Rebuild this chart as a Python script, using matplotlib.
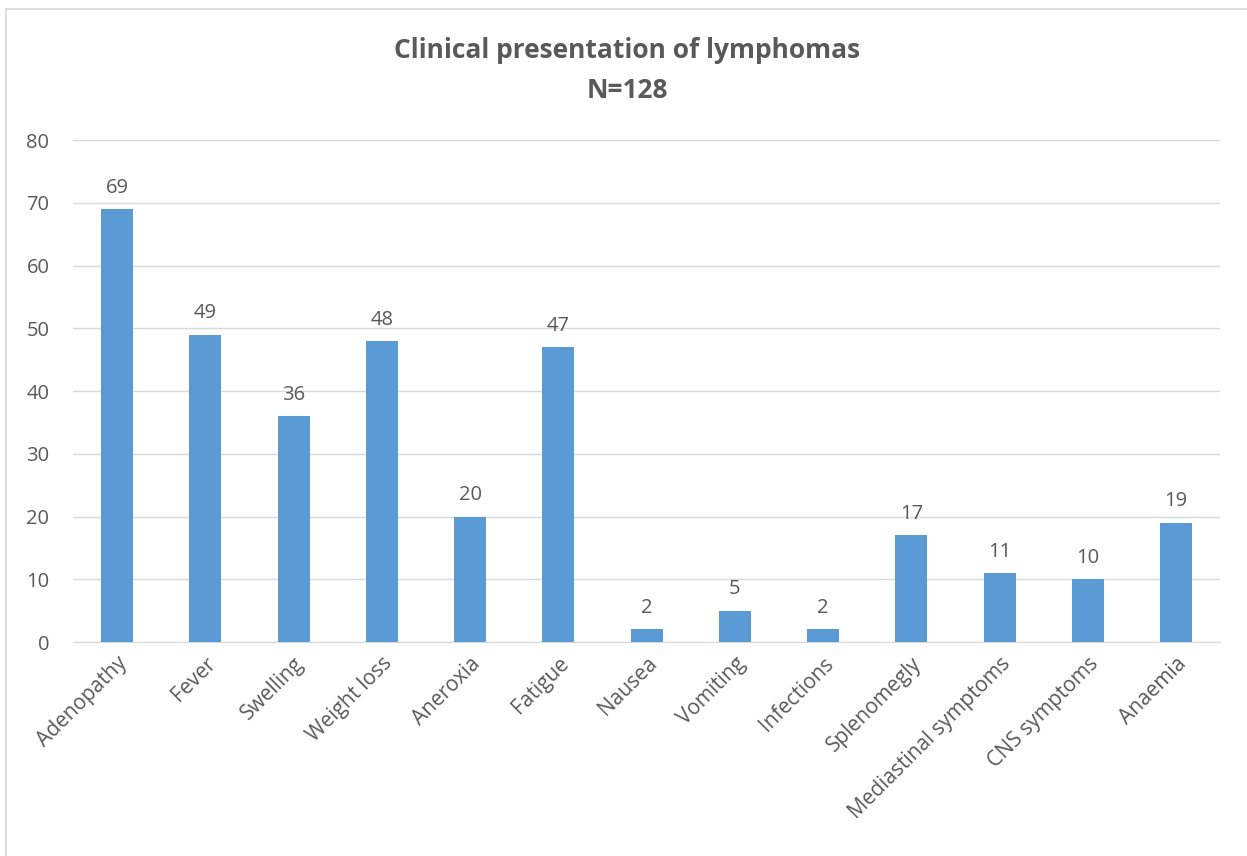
import matplotlib
matplotlib.use('Agg')
import matplotlib.pyplot as plt
from matplotlib.lines import Line2D

plt.rcParams['font.family'] = ['Open Sans', 'DejaVu Sans']

categories = ['Adenopathy', 'Fever', 'Swelling', 'Weight loss', 'Aneroxia', 'Fatigue',
              'Nausea', 'Vomiting', 'Infections', 'Splenomegly', 'Mediastinal symptoms',
              'CNS symptoms', 'Anaemia']
counts = [69, 49, 36, 48, 20, 47, 2, 5, 2, 17, 11, 10, 19]
y_ticks = [0, 10, 20, 30, 40, 50, 60, 70, 80]

text_col = '#595959'
bar_col = '#5B9BD5'

W, H = 1247, 856
fig = plt.figure(figsize=(W / 100, H / 100), dpi=100)
ax = fig.add_axes([73 / W, 0.25, 0.920, 0.5864])

x = range(len(categories))
ax.bar(x, counts, width=0.36, color=bar_col, zorder=3)
for xi, v in zip(x, counts):
    ax.text(xi, v + 1.8, str(v), ha='center', va='bottom', fontsize=14.5, color=text_col)

ax.set_xlim(-0.5, len(categories) - 0.5)
ax.set_ylim(0, 80)
ax.set_yticks(y_ticks)
ax.set_yticklabels([str(t) for t in y_ticks], fontsize=14.5, color=text_col)
ax.set_xticks(list(x))
ax.set_xticklabels(categories, rotation=45, ha='right', rotation_mode='anchor',
                   fontsize=15, color=text_col)
ax.tick_params(axis='y', length=0, pad=17)
ax.tick_params(axis='x', length=0, pad=8)
ax.grid(axis='y', color='#D9D9D9', linewidth=1, zorder=0)
for s in ['top', 'right', 'left']:
    ax.spines[s].set_visible(False)
ax.spines['bottom'].set_color('#D9D9D9')

fig.text(0.5 + 4 / W, 1 - 50 / H, 'Clinical presentation of lymphomas', ha='center',
         va='center', fontsize=19, fontweight='bold', color=text_col)
fig.text(0.5 + 4 / W, 1 - 90 / H, 'N=128', ha='center', va='center',
         fontsize=19, fontweight='bold', color=text_col)

# chart-area border (only left and top edges visible in the crop)
fig.lines.append(Line2D([5.5 / W, 5.5 / W], [0, 1 - 8.5 / H], transform=fig.transFigure,
                        color='#D9D9D9', linewidth=1.2))
fig.lines.append(Line2D([5.5 / W, 1], [1 - 8.5 / H, 1 - 8.5 / H], transform=fig.transFigure,
                        color='#D9D9D9', linewidth=1.2))

fig.savefig('out.png', dpi=100)
